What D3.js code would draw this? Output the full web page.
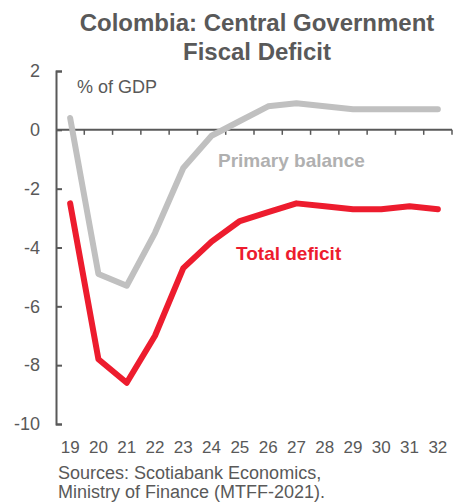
<!DOCTYPE html>
<html>
<head>
<meta charset="utf-8">
<script src="https://cdn.jsdelivr.net/npm/d3@7"></script>
<style>
  body { margin: 0; background: #fff; }
  text { font-family: "Liberation Sans", Arial, sans-serif; }
</style>
</head>
<body>
<div id="chart"></div>
<script>
const years = ["19", "20", "21", "22", "23", "24", "25", "26", "27", "28", "29", "30", "31", "32"];
const primaryBalance = [0.4, -4.9, -5.3, -3.5, -1.3, -0.2, 0.3, 0.8, 0.9, 0.8, 0.7, 0.7, 0.7, 0.7];
const totalDeficit = [-2.5, -7.8, -8.6, -7.0, -4.7, -3.8, -3.1, -2.8, -2.5, -2.6, -2.7, -2.7, -2.6, -2.7];
const yTicks = [2, 0, -2, -4, -6, -8, -10];

const svgWidth = 461;
const svgHeight = 502;
const axisColor = "#595959";

const svg = d3.select("#chart")
    .append("svg")
    .attr("width", svgWidth)
    .attr("height", svgHeight);

const xScale = d3.scaleBand()
    .domain(years)
    .range([56, 452]);

const yScale = d3.scaleLinear()
    .domain([-10, 2])
    .range([424, 71]);

// title
svg.append("text")
    .attr("x", 257)
    .attr("y", 31)
    .attr("text-anchor", "middle")
    .attr("font-size", 24)
    .attr("font-weight", "bold")
    .attr("fill", axisColor)
    .text("Colombia: Central Government");

svg.append("text")
    .attr("x", 257)
    .attr("y", 60)
    .attr("text-anchor", "middle")
    .attr("font-size", 24)
    .attr("font-weight", "bold")
    .attr("fill", axisColor)
    .text("Fiscal Deficit");

// y axis, ticks pointing inward
const yAxis = d3.axisLeft(yScale)
    .tickValues(yTicks)
    .tickSizeInner(-6)
    .tickSizeOuter(-6)
    .tickPadding(16)
    .tickFormat(d => String(d));

const yG = svg.append("g")
    .attr("transform", "translate(56,0)")
    .call(yAxis);
yG.selectAll("path, line").attr("stroke", axisColor).attr("stroke-width", 2);
yG.selectAll("text")
    .attr("fill", axisColor)
    .attr("font-size", 18)
    .style("font-family", "Liberation Sans, Arial, sans-serif");

// zero line with ticks between categories
svg.append("line")
    .attr("x1", 56)
    .attr("x2", 452)
    .attr("y1", yScale(0))
    .attr("y2", yScale(0))
    .attr("stroke", axisColor)
    .attr("stroke-width", 2);

svg.selectAll(".xtick")
    .data(years)
    .enter().append("line")
    .attr("class", "xtick")
    .attr("x1", d => xScale(d) + xScale.bandwidth())
    .attr("x2", d => xScale(d) + xScale.bandwidth())
    .attr("y1", yScale(0))
    .attr("y2", yScale(0) + 5)
    .attr("stroke", axisColor)
    .attr("stroke-width", 1.5);

// year labels below the plot
const xAxis = d3.axisBottom(xScale).tickSize(0).tickPadding(17);
const xG = svg.append("g")
    .attr("transform", "translate(0," + yScale(-10) + ")")
    .call(xAxis);
xG.select(".domain").remove();
xG.selectAll("text")
    .attr("fill", axisColor)
    .attr("font-size", 17)
    .style("font-family", "Liberation Sans, Arial, sans-serif");

svg.append("text")
    .attr("x", 77)
    .attr("y", 93)
    .attr("font-size", 18)
    .attr("fill", axisColor)
    .text("% of GDP");

const line = d3.line()
    .x((d, i) => xScale(years[i]) + xScale.bandwidth() / 2)
    .y(d => yScale(d));

svg.append("path")
    .datum(primaryBalance)
    .attr("d", line)
    .attr("fill", "none")
    .attr("stroke", "#c0c0c0")
    .attr("stroke-width", 6)
    .attr("stroke-linejoin", "round")
    .attr("stroke-linecap", "round");

svg.append("path")
    .datum(totalDeficit)
    .attr("d", line)
    .attr("fill", "none")
    .attr("stroke", "#ed1c2e")
    .attr("stroke-width", 6)
    .attr("stroke-linejoin", "round")
    .attr("stroke-linecap", "round");

svg.append("text")
    .attr("x", 218)
    .attr("y", 167)
    .attr("font-size", 19)
    .attr("font-weight", "bold")
    .attr("fill", "#b0b0b0")
    .text("Primary balance");

svg.append("text")
    .attr("x", 236)
    .attr("y", 260)
    .attr("font-size", 19)
    .attr("font-weight", "bold")
    .attr("fill", "#ed1c2e")
    .text("Total deficit");

svg.append("text")
    .attr("x", 58)
    .attr("y", 479)
    .attr("font-size", 18)
    .attr("fill", axisColor)
    .text("Sources: Scotiabank Economics,");

svg.append("text")
    .attr("x", 58)
    .attr("y", 498)
    .attr("font-size", 18)
    .attr("fill", axisColor)
    .text("Ministry of Finance (MTFF-2021).");
</script>
</body>
</html>
